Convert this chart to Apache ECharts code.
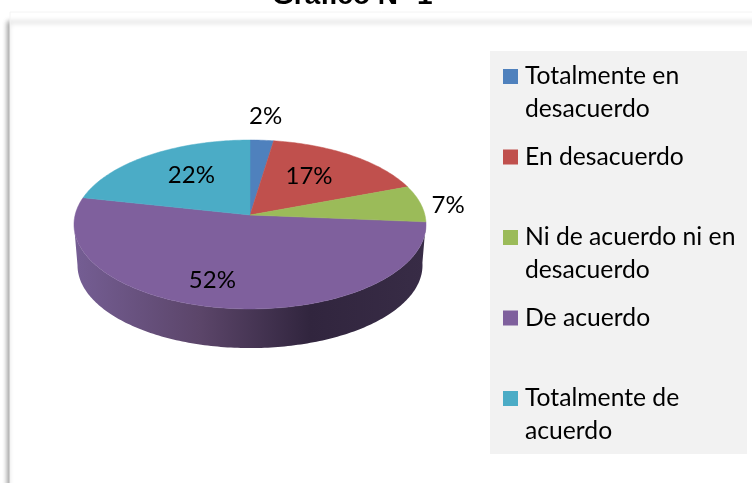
<!DOCTYPE html>
<html>
<head>
<meta charset="utf-8">
<title>Gráfico N° 1</title>
<script src="https://cdn.jsdelivr.net/npm/echarts@6/dist/echarts.min.js"></script>
<style>
  html, body { margin: 0; background: #fff; }
  #chart { width: 752px; height: 483px; }
</style>
</head>
<body>
<div id="chart"></div>
<script>
const titleText = 'Gráfico N° 1';
const categories = [
  'Totalmente en desacuerdo',
  'En desacuerdo',
  'Ni de acuerdo ni en desacuerdo',
  'De acuerdo',
  'Totalmente de acuerdo'
];
const legendText = [
  'Totalmente en\ndesacuerdo',
  'En desacuerdo\n ',
  'Ni de acuerdo ni en\ndesacuerdo',
  'De acuerdo\n ',
  'Totalmente de\nacuerdo'
];
// percentages, labels show them rounded
const values = [2.4, 16.9, 7, 52.1, 21.6];
const colors = ['#4f81bd', '#c0504d', '#9bbb59', '#7f609d', '#4bacc6'];

// label placement: radius as share of the pie, and turn from the slice middle (deg)
const labelRadius = [1.373, 0.608, 1.154, 0.743, 0.62];
const labelTurn = [0, -3.2, 2, 7, 4];

// tilted pie, projected by hand because the pie series is always a true circle
const pie = { cx: 250, cy: 215, a: 174.9, b: 83.4, k: 0.1124, depth: 41, shrink: 0.98 };
const wallEnd = 263.5; // left silhouette of the top face
const total = values.reduce((s, v) => s + v, 0);

function project(deg, r) {
  const t = (deg * Math.PI) / 180;
  const X = r * Math.sin(t);
  const Y = r * Math.cos(t);
  const w = 1 + pie.k * Y;
  return [pie.cx + (pie.a * X) / w, pie.cy - (pie.b * Y) / w];
}

function arc(from, to) {
  const pts = [];
  for (let d = from; d < to; d += 1) pts.push(project(d, 1));
  pts.push(project(to, 1));
  return pts;
}

function lower(p) {
  return [
    pie.cx + (p[0] - pie.cx) * pie.shrink,
    pie.cy + (p[1] - pie.cy) * pie.shrink + pie.depth
  ];
}

const renderSlice = (index) => (params, api) => {
  const from = (api.value(0) / total) * 360;
  const to = ((api.value(0) + api.value(1)) / total) * 360;
  const edge = arc(from, to);
  const children = [];

  // only the big front slice shows its wall
  if (index === 3) {
    const front = arc(from, Math.min(to, wallEnd));
    children.push({
      type: 'polygon',
      shape: { points: front.concat(front.map(lower).reverse()) },
      style: {
        fill: new echarts.graphic.LinearGradient(
          74, 0, 426, 0,
          [
            { offset: 0, color: '#755e94' },
            { offset: 0.36, color: '#5b4569' },
            { offset: 0.67, color: '#31253e' },
            { offset: 1, color: '#382c46' }
          ],
          true
        )
      }
    });
  }

  children.push({
    type: 'polygon',
    shape: { points: [[pie.cx, pie.cy]].concat(edge) },
    style: { fill: colors[index], stroke: colors[index], lineWidth: 0.5 }
  });

  const spot = project((from + to) / 2 + labelTurn[index], labelRadius[index]);
  children.push({
    type: 'text',
    z2: 10,
    style: {
      text: Math.round(api.value(1)) + '%',
      x: spot[0],
      y: spot[1],
      align: 'center',
      verticalAlign: 'middle',
      font: '24px Lato',
      fill: '#000'
    }
  });

  return { type: 'group', children };
};

let running = 0;
const series = categories.map((name, i) => {
  const start = running;
  running += values[i];
  return {
    type: 'custom',
    name,
    coordinateSystem: 'none',
    silent: true,
    z: i === 3 ? 2 : 3,
    itemStyle: { color: colors[i] },
    data: [[start, values[i]]],
    renderItem: renderSlice(i)
  };
});

const myChart = echarts.init(document.getElementById('chart'));
myChart.setOption({
  animation: false,
  backgroundColor: '#fff',
  title: {
    text: titleText,
    left: 272,
    top: -18,
    padding: 0,
    textStyle: {
      fontFamily: 'Liberation Sans',
      fontWeight: 'bold',
      fontSize: 28,
      color: '#000'
    }
  },
  graphic: [
    {
      type: 'rect',
      z: -10,
      shape: { x: 10, y: 12, width: 780, height: 520 },
      style: {
        fill: '#fff',
        stroke: '#f4f4f4',
        lineWidth: 1,
        shadowBlur: 5,
        shadowOffsetX: -2,
        shadowOffsetY: 10,
        shadowColor: 'rgba(0,0,0,0.4)'
      }
    },
    {
      type: 'rect',
      z: -9,
      shape: { x: 490, y: 51, width: 257, height: 403 },
      style: { fill: '#f2f2f2' }
    }
  ],
  legend: {
    orient: 'vertical',
    left: 503,
    top: 60,
    padding: 0,
    itemGap: 14.5,
    itemWidth: 15,
    itemHeight: 48,
    selectedMode: false,
    // square on the first text line: tall icon with empty lower part
    icon: 'path://M0 0H15V15H0Z M0 48H0',
    data: categories,
    formatter: (name) => legendText[categories.indexOf(name)],
    textStyle: {
      fontFamily: 'Lato',
      fontSize: 24.7,
      lineHeight: 33,
      color: '#000',
      padding: [0, 0, 0, 2]
    }
  },
  series
});
</script>
</body>
</html>
